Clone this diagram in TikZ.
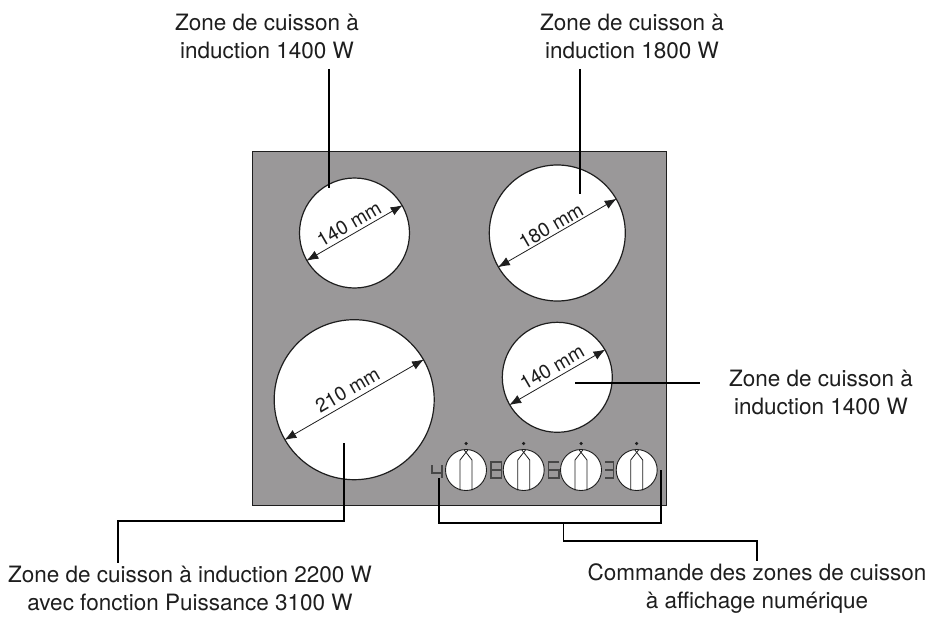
\documentclass[tikz,border=0pt]{standalone}
\usepackage{fontspec}
\setmainfont{TeX Gyre Heros}
\usetikzlibrary{arrows.meta,calc}
\definecolor{hobgrey}{RGB}{154,152,153}
\definecolor{ink}{RGB}{30,30,30}
\tikzset{
 zone/.style={circle,draw=ink,line width=1.2pt,fill=white,inner sep=0pt,minimum size=#1},
 lead/.style={draw=black,line width=1.6pt},
 dim/.style={draw=ink,line width=0.8pt,{Latex[length=12pt,width=9pt]}-{Latex[length=12pt,width=9pt]}},
 lab/.style={align=center,font=\fontsize{22.5}{27.5}\selectfont,inner sep=0pt,text=ink},
 dimlab/.style={font=\fontsize{19.5}{22}\selectfont,inner sep=0pt,text=ink},
 knob/.style={circle,draw=ink,line width=0.9pt,fill=white,inner sep=0pt,minimum size=41pt},
 knobline/.style={draw=ink,line width=0.8pt},
 digit/.style={draw=black!72,line width=1.4pt},
 dot/.style={circle,fill=ink,inner sep=0pt,minimum size=3.5pt}
}
\newcommand{\knobat}[2]{%
 \node[knob] (#2) at (#1,470) {};
 \node[dot] (#2d) at (#1,443.5) {};
 \draw[knobline] ($(#2)+(-6,20.3)$) -- ($(#2)+(-6,-10)$) -- ($(#2)+(2,-20.2)$);
 \draw[knobline] ($(#2)+(6,20.3)$) -- ($(#2)+(6,-10)$) -- ($(#2)+(-2,-20.2)$);
}
\begin{document}
\begin{tikzpicture}[x=1pt,y=-1pt]
\useasboundingbox (0,0) rectangle (931,621);
\fill[white] (0,0) rectangle (931,621);
\node[draw=ink,line width=0.9pt,fill=hobgrey,minimum width=414pt,minimum height=354pt,inner sep=0pt] (hob) at (459,328.5) {};
\node[zone=110pt] (z1) at (354.5,233) {};
\node[zone=136pt] (z2) at (557.3,233) {};
\node[zone=160pt] (z3) at (354.2,399.7) {};
\node[zone=110pt] (z4) at (557.3,377.3) {};
\draw[dim] (z1.210) -- (z1.30);
\draw[dim] (z2.210) -- (z2.30);
\draw[dim] (z3.210) -- (z3.30);
\draw[dim] (z4.210) -- (z4.30);
\node[dimlab,rotate=30] (d1) at (349,224) {140 mm};
\node[dimlab,rotate=30] (d2) at (551,226) {180 mm};
\node[dimlab,rotate=30] (d3) at (347.5,390) {210 mm};
\node[dimlab,rotate=30] (d4) at (552,367.5) {140 mm};
\knobat{466}{k1}
\knobat{523.7}{k2}
\knobat{581}{k3}
\knobat{636.7}{k4}
% digits
\draw[digit] (432,465) -- (432,473) -- (442,473) (442,465) -- (442,478);
\draw[digit] (491,462) rectangle (501.5,478) (491,470) -- (501.5,470);
\draw[digit] (559,462) -- (548.5,462) -- (548.5,478) -- (559,478) -- (559,470) -- (548.5,470);
\draw[digit] (605,462) -- (613.5,462) -- (613.5,478) -- (605,478) (605,470) -- (613.5,470);
% labels
\node[lab] (t1) at (267,36.5) {Zone de cuisson à\\induction 1400 W};
\node[lab] (t2) at (632,36.5) {Zone de cuisson à\\induction 1800 W};
\node[lab] (t3) at (821,392.5) {Zone de cuisson à\\induction 1400 W};
\node[lab] (t4) at (190,588.5) {Zone de cuisson à induction 2200 W\\avec fonction Puissance 3100 W};
\node[lab] (t5) at (757,588.5) {Commande des zones de cuisson\\à affichage numérique};
% connectors
\coordinate (c1) at (329,188);
\coordinate (c2) at (580,194);
\coordinate (c3) at (575,382.7);
\coordinate (c4) at (344,443.3);
\coordinate (c5) at (439,478);
\coordinate (c6) at (660.7,470);
\coordinate (c7) at (563.3,523);
\coordinate (c8) at (344,521);
\coordinate (c9) at (118,521);
\coordinate (c10) at (563.3,541);
\coordinate (c11) at (757,541);
\draw[lead] (c1 |- t1.south) ++(0,10) -- (c1);
\draw[lead] (c2 |- t2.south) ++(0,10) -- (c2);
\draw[lead] (c3) -- (700,382.7);
\draw[lead] (c4) -- (c8) -- (c9) -- (118,563);
\draw[lead] (c5) -- (439,523) -- (660.7,523) -- (c6);
\draw[lead] (c7) -- (c10) -- (c11) -- (757,560.7);
\end{tikzpicture}
\end{document}
